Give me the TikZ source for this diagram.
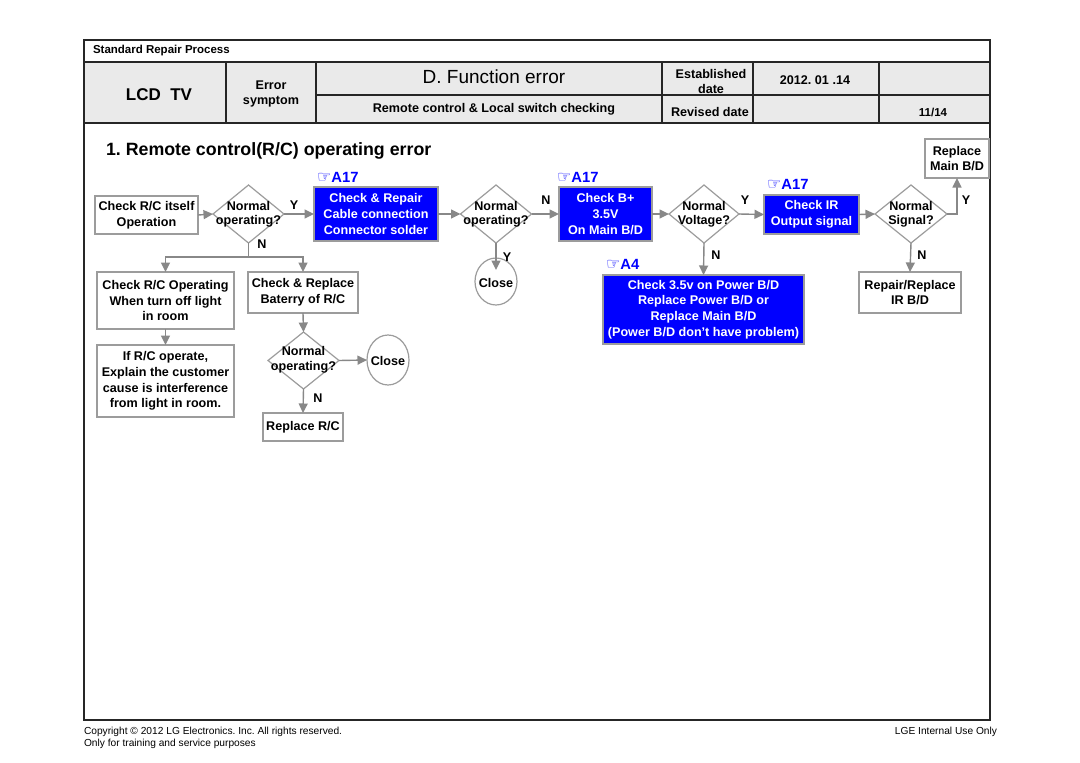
\documentclass[tikz,border=0pt]{standalone}
\usepackage{fontspec}
\setmainfont{Liberation Sans}
\newfontfamily\dejavu{DejaVu Sans}
\usetikzlibrary{arrows.meta,shapes.geometric}
\definecolor{lgray}{HTML}{EAEAEA}
\definecolor{cgray}{HTML}{888888}
\definecolor{bgray}{HTML}{9C9C9C}
\definecolor{bblue}{HTML}{0000FF}
\frenchspacing
\newcommand{\fsz}[2]{\fontsize{#1}{#2}\selectfont}
\newcommand{\hand}{{\dejavu\bfseries\fontsize{16}{16}\selectfont\char"261E}}
\tikzset{
 every node/.style={inner sep=0pt, outer sep=0pt},
 wbox/.style={draw=bgray, line width=1.2pt, fill=white, align=center, font=\fsz{12.6}{15.6}\bfseries},
 bbox/.style={draw=bgray, line width=1.2pt, fill=bblue, text=white, align=center, font=\fsz{12.6}{15.6}\bfseries},
 dia/.style={draw=bgray, line width=1.2pt, diamond, minimum width=71pt, minimum height=58pt},
 dtext/.style={align=center, font=\fsz{12.6}{14.5}\bfseries},
 closec/.style={draw=bgray, line width=1.2pt, ellipse, minimum width=42pt, minimum height=49pt},
 conn/.style={draw=cgray, line width=1.4pt, -{Triangle[length=9.5pt,width=9pt]}},
 yn/.style={font=\fsz{12.6}{14}\bfseries},
 refl/.style={text=bblue, font=\fsz{14.8}{16}\bfseries, anchor=west},
 hdr/.style={font=\fsz{12.6}{15}\bfseries, align=center},
 frameline/.style={line width=1.5pt, draw=black!85},
 cellline/.style={line width=1.1pt, draw=black!85},
}
\begin{document}
\begin{tikzpicture}[x=1pt,y=-1pt]
\useasboundingbox (0,0) rectangle (1080,763);
\fill[white] (0,0) rectangle (1080,763);
% ---------- header ----------
\fill[lgray] (84,62) rectangle (990,123);
\draw[cellline] (84,62) -- (990,62);
\draw[cellline] (226,62) -- (226,123);
\draw[cellline] (316,62) -- (316,123);
\draw[cellline] (662,62) -- (662,123);
\draw[cellline] (753,62) -- (753,123);
\draw[cellline] (879,62) -- (879,123);
\draw[cellline] (316,95) -- (990,95);
\draw[line width=2.2pt, draw=black!85] (84,123) -- (990,123);
\draw[frameline] (84,40) rectangle (990,720);

\node[font=\fsz{11.5}{13}\bfseries, anchor=west] (srp) at (93,50.5) {Standard Repair Process};
\node[font=\fsz{17}{20}\bfseries] (lcd) at (159,95) {LCD\ \ TV};
\node[hdr] (err) at (271,93.5) {Error\\symptom};
\node[font=\fsz{19}{20}] (dfe) at (494,77) {D. Function error};
\node[hdr] (rcl) at (494,109) {Remote control \& Local switch checking};
\node[hdr] (est) at (711,81) {Established\\date};
\node[hdr] (edt) at (815,80.5) {2012. 01 .14};
\node[hdr] (rev) at (710,111.5) {Revised date};
\node[font=\fsz{11.5}{14}\bfseries] (pg) at (933,112) {11/14};

% ---------- title ----------
\node[font=\fsz{17.8}{20}\bfseries, anchor=west] (title) at (106,150.5) {1. Remote control(R/C) operating error};

% ---------- flow nodes ----------
\node[wbox, minimum width=103pt, minimum height=38pt] (c1) at (146.5,215) {Check R/C itself\\Operation};
\node[dia] (d1) at (248.5,214) {};
\node[dtext] (d1t) at (248.5,214.5) {Normal\\operating?};
\node[bbox, minimum width=124pt, minimum height=54pt] (b1) at (376,214) {Check \& Repair\\Cable connection\\Connector solder};
\node[wbox, minimum width=137pt, minimum height=57pt] (c2) at (165.5,300.5) {Check R/C Operating\\When turn off light\\in room};
\node[wbox, minimum width=110pt, minimum height=41pt] (c3) at (303,292.5) {Check \& Replace\\Baterry of R/C};
\node[wbox, minimum width=137pt, minimum height=72pt] (c4) at (165.5,381) {If R/C operate,\\Explain the customer\\cause is interference\\from light in room.};
\node[dia, minimum height=57pt] (d2) at (303.5,360.5) {};
\node[dtext] (d2t) at (303.5,360) {Normal\\operating?};
\node[closec, minimum height=50pt] (cl2) at (388,360) {};
\node[dtext] (cl2t) at (388,360.5) {Close};
\node[wbox, minimum width=80pt, minimum height=28pt] (rr) at (303,427) {Replace R/C};

\node[dia] (d3) at (496,214) {};
\node[dtext] (d3t) at (496,214.5) {Normal\\operating?};
\node[closec, minimum height=47pt] (cl1) at (496,281.5) {};
\node[dtext] (cl1t) at (496,283) {Close};
\node[bbox, minimum width=93pt, minimum height=54pt] (b2) at (605.5,214) {Check B+\\3.5V\\On Main B/D};
\node[dia, minimum width=70pt] (d4) at (704,214) {};
\node[dtext] (d4t) at (704,214.5) {Normal\\Voltage?};
\node[bbox, minimum width=201pt, minimum height=69pt] (b3) at (703.5,309.5) {Check 3.5v on Power B/D\\Replace Power B/D or\\Replace Main B/D\\(Power B/D don’t have problem)};
\node[bbox, minimum width=95pt, minimum height=39pt] (b4) at (811.5,214.5) {Check IR\\Output signal};
\node[dia, minimum width=72pt] (d5) at (911,214) {};
\node[dtext] (d5t) at (911,214.5) {Normal\\Signal?};
\node[wbox, minimum width=64pt, minimum height=39pt] (rm) at (957,158.5) {Replace\\Main B/D};
\node[wbox, minimum width=102pt, minimum height=41pt] (ir) at (910,292.5) {Repair/Replace\\IR B/D};

% ---------- reference marks ----------
\node[refl] (r1) at (317,177.5) {\hand A17};
\node[refl] (r2) at (557,177.5) {\hand A17};
\node[refl] (r3) at (767,184.5) {\hand A17};
\node[refl] (r4) at (606,264.5) {\hand A4};

% ---------- connectors ----------
\draw[conn] (c1.east) -- (d1.west);
\draw[conn] (d1.east) -- (b1.west);
\draw[conn] (d1.south) -- ++(0,14) -| (c2.north);
\draw[conn] (d1.south) -- ++(0,14) -| (c3.north);
\draw[conn] (c2.south) -- (c4.north);
\draw[conn] (c3.south) -- (d2.north);
\draw[conn] (d2.east) -- (cl2.west);
\draw[conn] (d2.south) -- (rr.north);
\draw[conn] (b1.east) -- (d3.west);
\draw[conn] (d3.east) -- (b2.west);
\draw[conn] (d3.south) -- ++(0,27);
\draw[conn] (b2.east) -- (d4.west);
\draw[conn] (d4.east) -- (b4.west);
\draw[conn] (d4.south) -- (b3.north);
\draw[conn] (b4.east) -- (d5.west);
\draw[conn] (d5.east) -| (rm.south);
\draw[conn] (d5.south) -- (ir.north);

% ---------- Y/N labels ----------
\node[yn] (y1) at (294,205) {Y};
\node[yn] (n1) at (262,244) {N};
\node[yn] (n2) at (318,398) {N};
\node[yn] (y3) at (507,257) {Y};
\node[yn] (n3) at (546,200) {N};
\node[yn] (y4) at (745,200) {Y};
\node[yn] (n4) at (716,255) {N};
\node[yn] (y5) at (966,200) {Y};
\node[yn] (n5) at (922,255) {N};

% ---------- footer ----------
\node[font=\fsz{10.2}{12}, anchor=west] (f1) at (84,731.5) {Copyright © 2012 LG Electronics. Inc. All rights reserved.};
\node[font=\fsz{10.2}{12}, anchor=west] (f2) at (84,743.5) {Only for training and service purposes};
\node[font=\fsz{10.2}{12}, anchor=east] (f3) at (997,731.5) {LGE Internal Use Only};
\end{tikzpicture}
\end{document}
